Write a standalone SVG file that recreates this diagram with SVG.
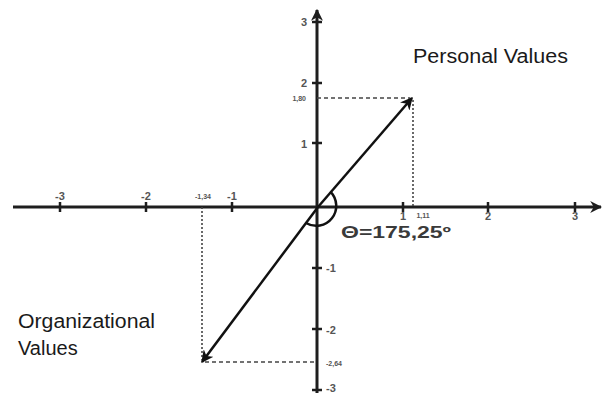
<svg xmlns="http://www.w3.org/2000/svg" width="604" height="393" viewBox="0 0 604 393">
<defs>
<style>
.axis{stroke:#1e1e1e;stroke-width:3;fill:none}
.tick{stroke:#1e1e1e;stroke-width:2.5}
.dash{stroke:#444;stroke-width:1.6;stroke-dasharray:4 3;fill:none}
.dot{stroke:#444;stroke-width:1.6;stroke-dasharray:2 2;fill:none}
.vec{stroke:#111;stroke-width:2.5;fill:none}
.lab{font-family:"Liberation Sans",Arial,sans-serif;font-size:11px;fill:#555;font-weight:bold}
.tiny{font-family:"Liberation Sans",Arial,sans-serif;font-size:7px;fill:#555;font-weight:bold}
.big{font-family:"Liberation Sans",Arial,sans-serif;font-size:20px;fill:#1a1a1a}
.theta{font-family:"Liberation Sans",Arial,sans-serif;font-size:16px;fill:#3a3a3a;font-weight:bold}
</style>
<marker id="ah" viewBox="0 0 10 10" refX="9" refY="5" markerWidth="5" markerHeight="5" orient="auto" markerUnits="strokeWidth">
<path d="M0,0 L10,5 L0,10 L3,5 Z" fill="#111"/>
</marker>
<marker id="axh" viewBox="0 0 10 10" refX="9" refY="5" markerWidth="4" markerHeight="4" orient="auto" markerUnits="strokeWidth">
<path d="M0,0 L10,5 L0,10 L3,5 Z" fill="#1e1e1e"/>
</marker>
</defs>
<g id="axes">
<line class="axis" x1="13" y1="207" x2="601" y2="207" marker-end="url(#axh)"/>
<line class="axis" x1="317" y1="393" x2="317" y2="10" marker-end="url(#axh)"/>
<g id="xticks">
<line class="tick" x1="60" y1="202" x2="60" y2="212"/>
<line class="tick" x1="146" y1="202" x2="146" y2="212"/>
<line class="tick" x1="232" y1="202" x2="232" y2="212"/>
<line class="tick" x1="403" y1="202" x2="403" y2="212"/>
<line class="tick" x1="488" y1="202" x2="488" y2="212"/>
<line class="tick" x1="575" y1="202" x2="575" y2="212"/>
</g>
<g id="yticks">
<line class="tick" x1="312" y1="22" x2="322" y2="22"/>
<line class="tick" x1="312" y1="83" x2="322" y2="83"/>
<line class="tick" x1="312" y1="143" x2="322" y2="143"/>
<line class="tick" x1="312" y1="268" x2="322" y2="268"/>
<line class="tick" x1="312" y1="329" x2="322" y2="329"/>
<line class="tick" x1="312" y1="390" x2="322" y2="390"/>
</g>
<g id="xlabels">
<text class="lab" x="60" y="200" text-anchor="middle">-3</text>
<text class="lab" x="146" y="200" text-anchor="middle">-2</text>
<text class="lab" x="232" y="200" text-anchor="middle">-1</text>
<text class="tiny" x="203" y="199" text-anchor="middle">-1,34</text>
<text class="lab" x="403" y="220" text-anchor="middle">1</text>
<text class="tiny" x="423" y="218" text-anchor="middle">1,11</text>
<text class="lab" x="488" y="220" text-anchor="middle">2</text>
<text class="lab" x="575" y="220" text-anchor="middle">3</text>
</g>
<g id="ylabels">
<text class="lab" x="307" y="26" text-anchor="end">3</text>
<text class="lab" x="307" y="87" text-anchor="end">2</text>
<text class="tiny" x="306" y="101" text-anchor="end">1,80</text>
<text class="lab" x="307" y="148" text-anchor="end">1</text>
<text class="lab" x="326" y="272">-1</text>
<text class="lab" x="326" y="334">-2</text>
<text class="tiny" x="326" y="366">-2,64</text>
<text class="lab" x="326" y="392">-3</text>
</g>
</g>
<g id="connectors">
<line class="dash" x1="317" y1="98" x2="410" y2="98"/>
<line class="dot" x1="413" y1="100" x2="413" y2="207"/>
<line class="dot" x1="202" y1="207" x2="202" y2="360"/>
<line class="dash" x1="205" y1="362" x2="317" y2="362"/>
<line class="vec" x1="318" y1="207" x2="412" y2="98" marker-end="url(#ah)"/>
<line class="vec" x1="318" y1="207" x2="202" y2="362" marker-end="url(#ah)"/>
<path class="vec" d="M330.6,191.9 A20,20 0 0 1 306,223"/>
</g>
<g id="personal">
<text class="big" x="413" y="63" textLength="155" lengthAdjust="spacingAndGlyphs">Personal Values</text>
</g>
<g id="organizational">
<text class="big" x="18" y="328" textLength="137" lengthAdjust="spacingAndGlyphs">Organizational</text>
<text class="big" x="18" y="355">Values</text>
</g>
<g id="theta">
<text class="theta" x="341" y="238" textLength="110" lengthAdjust="spacingAndGlyphs">Θ=175,25º</text>
</g>
</svg>
